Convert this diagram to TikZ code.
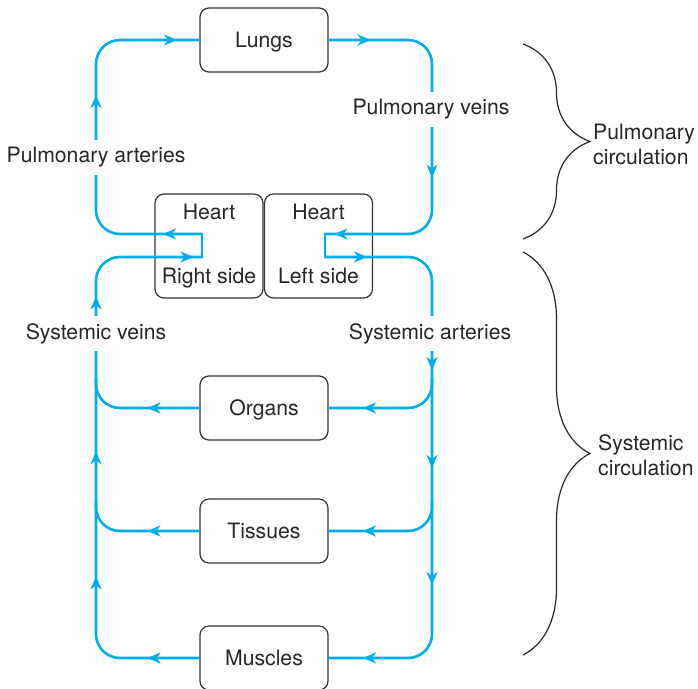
\documentclass[tikz,border=0pt]{standalone}
\usepackage{fontspec}
\setmainfont{TeX Gyre Heros}
\usepackage{xcolor}
\usetikzlibrary{arrows.meta,decorations.markings,decorations.pathreplacing}
\definecolor{flowblue}{RGB}{0,174,239}

\begin{document}
\begin{tikzpicture}[x=1pt, y=-1pt,
    font=\fontsize{21.2}{25}\selectfont,
    frame/.style={draw=black!80, line width=1.2pt, rounded corners=9pt, align=center, text=black!85},
    box/.style={frame, minimum width=128pt, minimum height=64pt, text height=15pt, text depth=0pt},
    heart/.style={frame, minimum width=108pt, minimum height=104pt},
    flow/.style={draw=flowblue, line width=2.6pt, rounded corners=24pt},
    tipat/.style={postaction={decorate, decoration={markings,
                  mark=at position #1 with {\pgfsetcornersarced{\pgfpointorigin}%
                  \arrow{Stealth[length=13pt, width=11pt, inset=4pt]}}}}},
    lab/.style={fill=white, inner xsep=2pt, inner ysep=7pt, text=black!85},
    side/.style={anchor=west, align=left, inner sep=0pt, text=black!85},
    curly/.style={decorate, decoration={brace, amplitude=67pt}, draw=black!85, line width=1.2pt}
  ]
  \useasboundingbox (0,0) rectangle (698,688);
  % boxes
  \node[box] (lungs) at (264,40) {Lungs};
  \node[heart] (rheart) at (209,246) {Heart\\[39pt]Right side};
  \node[heart] (lheart) at (318.5,246) {Heart\\[39pt]Left side\vphantom{g}};
  \node[box] (organs) at (264,408) {Organs};
  \node[box] (tissues) at (264,531) {Tissues};
  \node[box] (muscles) at (264,658) {Muscles};
  % trunk lines and heart ports
  \coordinate (vl) at (96,0);
  \coordinate (vr) at (432,0);
  \coordinate (raout) at (202,234);
  \coordinate (rain) at (202,257);
  \coordinate (lain) at (325,234);
  \coordinate (laout) at (325,257);
  \coordinate (orgR) at (organs.east -| vr);
  \coordinate (orgL) at (organs.west -| vl);
  \coordinate (tisR) at (tissues.east -| vr);
  \coordinate (tisL) at (tissues.west -| vl);
  % pulmonary loop
  \draw[flow, tipat/.list={39pt,234.7pt,360.4pt}]
    (raout) -- (raout -| vl) -- (lungs.west -| vl) -- (lungs.west);
  \draw[flow, tipat/.list={42pt,230.7pt,374.4pt}]
    (lungs.east) -- (lungs.east -| vr) -- (lain -| vr) -- (lain);
  \draw[flow, line cap=rect] (lain) -- (laout);
  % systemic loop
  \draw[flow, tipat/.list={42pt,209.7pt,307.7pt,424.7pt,556.4pt}]
    (laout) -- (laout -| vr) -- (muscles.east -| vr) -- (muscles.east);
  \draw[flow, tipat/.list={52pt,174.7pt,299.7pt,454.7pt,581.4pt}]
    (muscles.west) -- (muscles.west -| vl) -- (rain -| vl) -- (rain);
  \draw[flow, line cap=rect] (rain) -- (raout);
  \draw[flow, tipat=88.7pt] ([yshift=30pt]orgR) -- (orgR) -- (organs.east);
  \draw[flow, tipat=52pt] (organs.west) -- (orgL) -- ([yshift=30pt]orgL);
  \draw[flow, tipat=88.7pt] ([yshift=30pt]tisR) -- (tisR) -- (tissues.east);
  \draw[flow, tipat=52pt] (tissues.west) -- (tisL) -- ([yshift=30pt]tisL);
  % vessel labels
  \node[lab] (partery) at (96,157.5) {Pulmonary arteries};
  \node[lab] (pvein) at (431,109.5) {Pulmonary veins};
  \node[lab] (svein) at (96,333.5) {Systemic veins};
  \node[lab] (sartery) at (430,333.5) {Systemic arteries};
  % braces
  \draw[curly] (523,44) -- (523,239);
  \draw[curly] (523,252) -- (523,655);
  \node[side] (pcirc) at (593,144) {Pulmonary\\circulation};
  \node[side] (scirc) at (598,455) {Systemic\\circulation};
\end{tikzpicture}
\end{document}
